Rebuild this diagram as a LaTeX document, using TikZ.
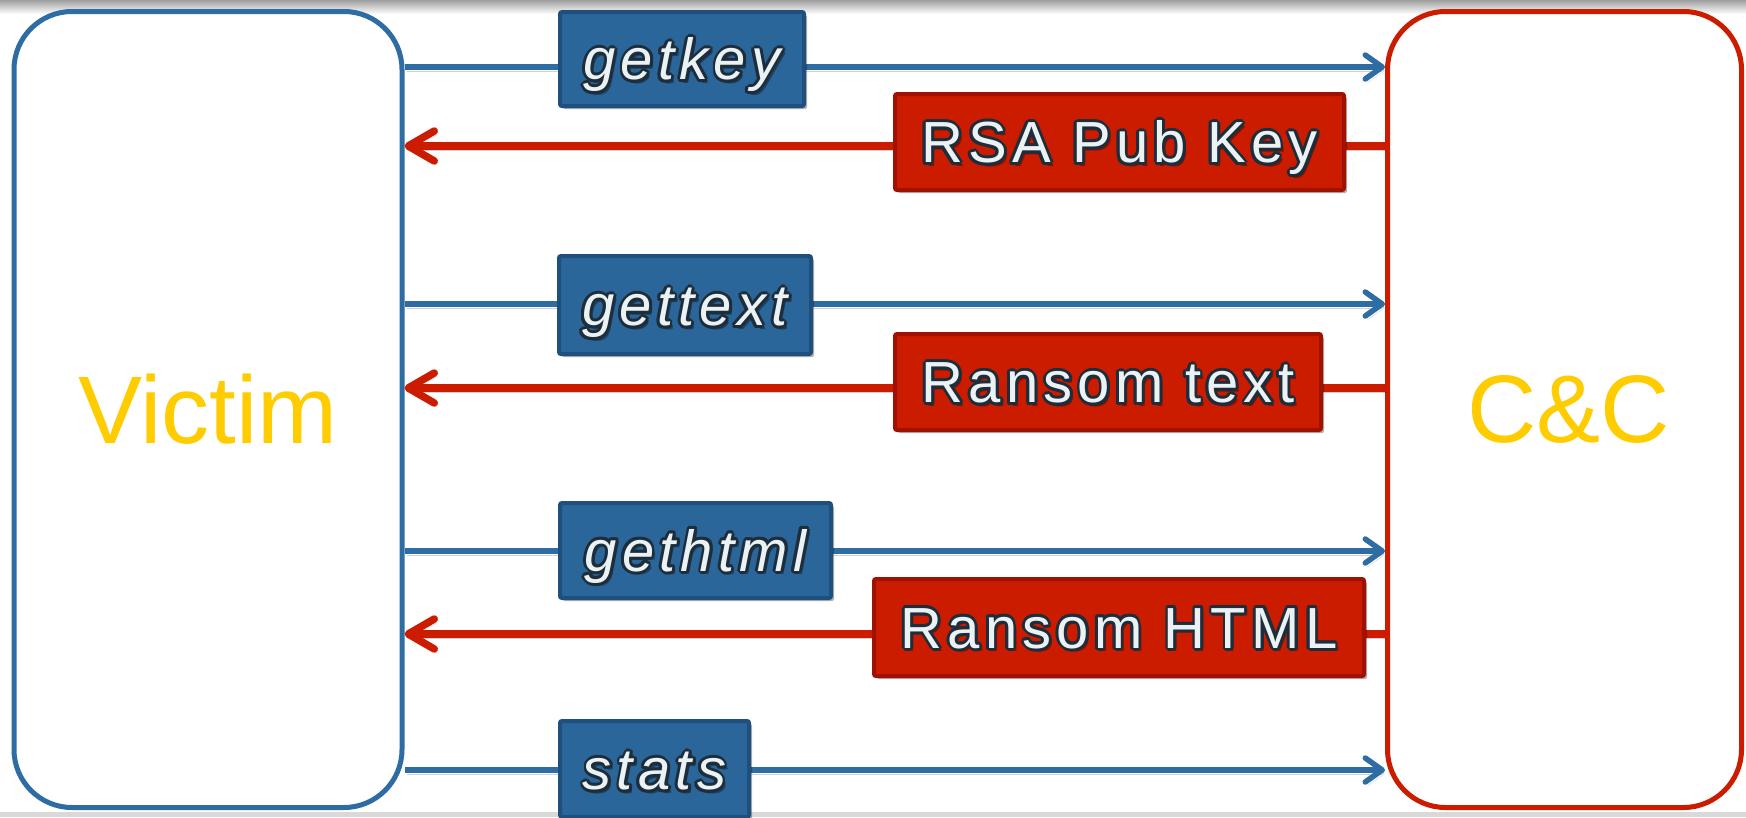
\documentclass[tikz,border=0pt]{standalone}
\usepackage{fontspec}
\setmainfont{Liberation Sans}
\newfontfamily\lblfont[LetterSpace=9]{Liberation Sans}
\usetikzlibrary{arrows.meta,shadows}
\definecolor{cblue}{HTML}{2E6DA4}
\definecolor{lblue}{HTML}{2A6699}
\definecolor{lbluedk}{HTML}{1F4F7D}
\definecolor{cred}{HTML}{CC1C00}
\definecolor{lreddk}{HTML}{A01200}
\definecolor{cyel}{HTML}{FFCC00}
\definecolor{txtlight}{HTML}{EAF2F3}
\definecolor{txtdark}{HTML}{1E2D3B}
\newcommand\lbltext[2]{%
  \node[lbltxt, text=black, opacity=0.35] (#1s) at ([shift={(3pt,-3.5pt)}]#1.center) {#2};
  \foreach \ang in {0,30,...,330}{%
    \node[lbltxt, text=txtdark] (#1o\ang) at ([shift={(\ang:2.8pt)}]#1.center) {#2};}
  \node[lbltxt, text=txtlight] (#1t) at (#1.center) {#2};
}
\begin{document}
\begin{tikzpicture}[x=1pt,y=-1pt,
  party/.style={draw, line width=5pt, rounded corners=58pt, fill=white,
    minimum width=388pt, minimum height=796pt, inner sep=0pt,
    font=\fontsize{96}{110}\selectfont, text=cyel},
  reqbox/.style={draw=lbluedk, fill=lblue, line width=4pt, rounded corners=2pt,
    inner sep=0pt, drop shadow={shadow xshift=3pt, shadow yshift=-3pt, opacity=0.3, fill=black}},
  respbox/.style={draw=lreddk, fill=cred, line width=4pt, rounded corners=2pt,
    inner sep=0pt, drop shadow={shadow xshift=3pt, shadow yshift=-3pt, opacity=0.3, fill=black}},
  lbltxt/.style={inner sep=0pt, font=\lblfont\fontsize{58}{62}\selectfont,
    text height=41.5pt, text depth=0pt},
  reqline/.style={draw=cblue, line width=5.5pt,
    -{Straight Barb[length=17pt, width=24pt, round]},
    preaction={draw=black, opacity=0.18, transform canvas={shift={(2pt,-4pt)}}}},
  respline/.style={draw=cred, line width=7.5pt,
    -{Straight Barb[length=26pt, width=30pt, round]},
    preaction={draw=black, opacity=0.18, transform canvas={shift={(2pt,-4pt)}}}},
]
\useasboundingbox (0,0) rectangle (1746,817);
\fill[white] (0,0) rectangle (1746,817);
\shade[top color=gray!75, bottom color=white] (0,0) rectangle (1746,14);
\fill[gray!30] (0,812) rectangle (1746,817);

\node[party, draw=cblue] (victim) at (208,409.5) {Victim};
\node[party, draw=cred, minimum width=354pt] (cc) at (1564.5,409.5) {\hspace*{8pt}C\&C};

\coordinate (y1) at (0,67);
\coordinate (y2) at (0,146);
\coordinate (y3) at (0,304);
\coordinate (y4) at (0,388);
\coordinate (y5) at (0,551);
\coordinate (y6) at (0,634);
\coordinate (y7) at (0,770);

\draw[reqline] (victim.east |- y1) -- (cc.west |- y1);
\draw[respline] (cc.west |- y2) -- (victim.east |- y2);
\draw[reqline] (victim.east |- y3) -- (cc.west |- y3);
\draw[respline] (cc.west |- y4) -- (victim.east |- y4);
\draw[reqline] (victim.east |- y5) -- (cc.west |- y5);
\draw[respline] (cc.west |- y6) -- (victim.east |- y6);
\draw[reqline] (victim.east |- y7) -- (cc.west |- y7);

\node[reqbox, minimum width=244pt, minimum height=94pt] (k1) at (682,59) {};
\node[respbox, minimum width=449pt, minimum height=96pt] (k2) at (1119.5,142) {};
\node[reqbox, minimum width=252pt, minimum height=98pt] (k3) at (685,305) {};
\node[respbox, minimum width=426pt, minimum height=96pt] (k4) at (1108,382) {};
\node[reqbox, minimum width=271pt, minimum height=95pt] (k5) at (695.5,550.5) {};
\node[respbox, minimum width=490pt, minimum height=97pt] (k6) at (1119,627.5) {};
\node[reqbox, minimum width=189pt, minimum height=96pt] (k7) at (654.5,769) {};

\lbltext{k1}{\itshape getkey}
\lbltext{k2}{RSA Pub Key}
\lbltext{k3}{\itshape gettext}
\lbltext{k4}{Ransom text}
\lbltext{k5}{\itshape gethtml}
\lbltext{k6}{Ransom HTML}
\lbltext{k7}{\itshape stats}
\end{tikzpicture}
\end{document}
